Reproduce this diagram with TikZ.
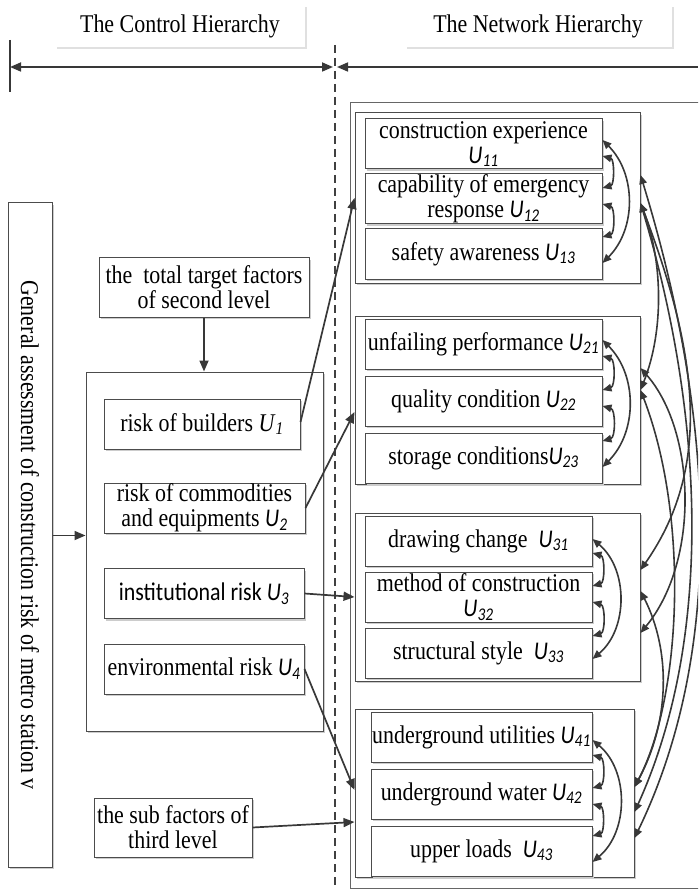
\documentclass[tikz,border=0pt]{standalone}
\usepackage{fontspec}
\setmainfont{Liberation Serif}[FakeStretch=0.86]
\newfontfamily\sansit{Carlito}[FakeStretch=0.86]
\usetikzlibrary{positioning,arrows.meta,shadows}

\newcommand\uvar[1]{{\sansit\itshape U\textsubscript{#1}}}

\begin{document}
\begin{tikzpicture}[x=1pt, y=-1pt, font=\fontsize{25.5}{25}\selectfont,
    box/.style={rectangle, draw=black!70, fill=white, line width=1pt, inner sep=1pt, align=center,
      drop shadow={shadow xshift=2pt, shadow yshift=-2pt, fill=black!20, opacity=1}},
    head/.style={rectangle, fill=white, minimum height=42pt,
      drop shadow={shadow xshift=2pt, shadow yshift=-2pt, fill=black!12, opacity=1}},
    item/.style={box, minimum height=50pt},
    twoline/.style={inner ysep=-3pt},
    wire/.style={-{Triangle[length=11pt,width=9pt]}, line width=1.7pt, draw=black!78},
    link/.style={{Triangle[length=9pt,width=7.5pt]}-{Triangle[length=9pt,width=7.5pt]}, line width=1.6pt, draw=black!78}]

    \useasboundingbox (0,0) rectangle (698,890);
    \clip (0,0) rectangle (698,890);

    % Headers
    \node[head, minimum width=250pt] (ctrlhead) at (180,26) {The Control Hierarchy};
    \node[head, minimum width=267pt] (nethead) at (538,26) {The Network Hierarchy};

    \coordinate (tick1) at (10,40);
    \coordinate (tick2) at (10,92);
    \coordinate (hleft) at (10,67);
    \coordinate (hmid) at (335,67);
    \coordinate (hright) at (698,67);
    \coordinate (dtop) at (335,45);
    \coordinate (dbot) at (335,890);

    \draw[line width=1.6pt, black!78] (tick1) -- (tick2);
    \draw[line width=1.7pt, black!78, {Triangle[length=11pt,width=9pt]}-{Triangle[length=11pt,width=9pt]}] (hleft) -- ([xshift=-2pt]hmid);
    \draw[line width=1.7pt, black!78, {Triangle[length=11pt,width=9pt]}-] ([xshift=2pt]hmid) -- (hright);
    \draw[line width=1.6pt, black!75, dash pattern=on 8pt off 5pt] (dtop) -- (dbot);

    % Control hierarchy
    \node[box, rotate=-90, minimum width=664pt, minimum height=44pt, inner ysep=0pt] (goal) at (30,535) {General assessment of construction risk of metro station v};
    \node[box, minimum width=210pt, minimum height=59pt, inner ysep=0pt] (target) at (204,287.5) {the~ total target factors\\of second level};
    \node[box, minimum width=237pt, minimum height=359pt] (ctrl) at (204.5,551.5) {};
    \node[item, minimum width=196pt] (builders) at (202,424) {risk of builders \textit{U}\textsubscript{\textit{1}}};
    \node[item, twoline, minimum width=201pt] (goods) at (204.5,508) {risk of commodities\\and equipments \uvar{2}};
    \node[item, minimum width=200pt, font=\fontsize{25.5}{25}\sansit] (inst) at (204,593.5) {institutional risk \uvar{3}};
    \node[item, minimum width=200pt] (env) at (204,669) {environmental risk \uvar{4}};
    \node[box, minimum width=158pt, minimum height=59pt, inner ysep=0pt] (sub) at (173,827.5) {the sub factors of\\third level};

    % Network hierarchy
    \node[rectangle, draw=black!60, line width=1pt, minimum width=370pt, minimum height=785pt] (net) at (535,495.5) {};
    \node[box, minimum width=285pt, minimum height=170pt] (g1) at (497.5,198) {};
    \node[box, minimum width=285pt, minimum height=168pt] (g2) at (497.5,400) {};
    \node[box, minimum width=285pt, minimum height=168pt] (g3) at (497.5,597) {};
    \node[box, minimum width=279pt, minimum height=168pt] (g4) at (494.5,793) {};

    \node[item, twoline, minimum width=237pt] (u11) at (483.5,144) {construction experience\\\uvar{11}};
    \node[item, twoline, minimum width=237pt, below=4pt of u11] (u12) {capability of emergency\\response \uvar{12}};
    \node[item, minimum width=237pt, below=4pt of u12] (u13) {safety awareness \uvar{13}};

    \node[item, minimum width=237pt] (u21) at (483.5,344) {unfailing performance \uvar{21}};
    \node[item, minimum width=237pt, below=6pt of u21] (u22) {quality condition \uvar{22}};
    \node[item, minimum width=237pt, below=6pt of u22] (u23) {storage conditions\uvar{23}};

    \node[item, minimum width=227pt] (u31) at (478.5,541) {drawing change~ \uvar{31}};
    \node[item, twoline, minimum width=227pt, below=5pt of u31] (u32) {method of construction\\\uvar{32}};
    \node[item, minimum width=227pt, below=5pt of u32] (u33) {structural style~ \uvar{33}};

    \node[item, minimum width=221pt] (u41) at (481.5,737) {underground utilities \uvar{41}};
    \node[item, minimum width=221pt, below=6pt of u41] (u42) {underground water \uvar{42}};
    \node[item, minimum width=221pt, below=6pt of u42] (u43) {upper loads~ \uvar{43}};

    % Arrows
    \draw[wire] (goal.north |- ctrl.west) ++(0,-16) -- ([yshift=16pt]ctrl.west);
    \draw[wire] (target.south) -- (target.south |- ctrl.north);
    \draw[wire] ([yshift=2pt]builders.east) -- (g1.west);
    \draw[wire] (goods.east) -- ([yshift=-12pt]g2.west);
    \draw[wire] (inst.east) -- (g3.west);
    \draw[wire] (env.east) -- ([yshift=3pt]g4.west);
    \draw[wire] (sub.east) -- ([yshift=-29pt]g4.west);

    % Links inside the groups
    \draw[link] ([yshift=4pt]u11.east) to[bend left=45] ([yshift=-9pt]u13.east);
    \draw[link] ([yshift=-12pt]u11.east) to[bend left=75] ([yshift=11pt]u12.east);
    \draw[link] ([yshift=-5pt]u12.east) to[bend left=75] ([yshift=17pt]u13.east);

    \draw[link] ([yshift=4pt]u21.east) to[bend left=45] ([yshift=-9pt]u23.east);
    \draw[link] ([yshift=-12pt]u21.east) to[bend left=75] ([yshift=11pt]u22.east);
    \draw[link] ([yshift=-5pt]u22.east) to[bend left=75] ([yshift=17pt]u23.east);

    \draw[link] ([yshift=2pt]u31.east) to[bend left=50] ([yshift=-6pt]u33.east);
    \draw[link] ([yshift=-12pt]u31.east) to[bend left=75] ([yshift=11pt]u32.east);
    \draw[link] ([yshift=-5pt]u32.east) to[bend left=75] ([yshift=17pt]u33.east);

    \draw[link] ([yshift=-3pt]u41.east) to[bend left=50] ([yshift=-11pt]u43.east);
    \draw[link] ([yshift=-18pt]u41.east) to[bend left=75] ([yshift=6pt]u42.east);
    \draw[link] ([yshift=-10pt]u42.east) to[bend left=75] ([yshift=15pt]u43.east);

    % Links between the groups
    \draw[link] ([yshift=23pt]g1.east) .. controls +(75,245) and +(91,-188) .. ([yshift=-45pt]g4.east);
    \draw[link] ([yshift=-5pt]g1.east) .. controls +(65,217) and +(78,-172) .. ([yshift=-19pt]g4.east);
    \draw[link] ([yshift=-5pt]g1.east) .. controls +(60,157) and +(70,-100) .. ([yshift=27pt]g3.east);
    \draw[link] ([yshift=-5pt]g1.east) .. controls +(22,57) and +(24,-60) .. ([yshift=10pt]g2.east);
    \draw[link] ([yshift=32pt]g2.east) .. controls +(55,62) and +(60,-73) .. ([yshift=-36pt]g3.east);
    \draw[link] ([yshift=10pt]g2.east) .. controls +(50,130) and +(46,-87) .. ([yshift=6pt]g4.east);
    \draw[link] ([yshift=6pt]g3.east) .. controls +(30,59) and +(36,-67) .. ([yshift=6pt]g4.east);
\end{tikzpicture}
\end{document}
